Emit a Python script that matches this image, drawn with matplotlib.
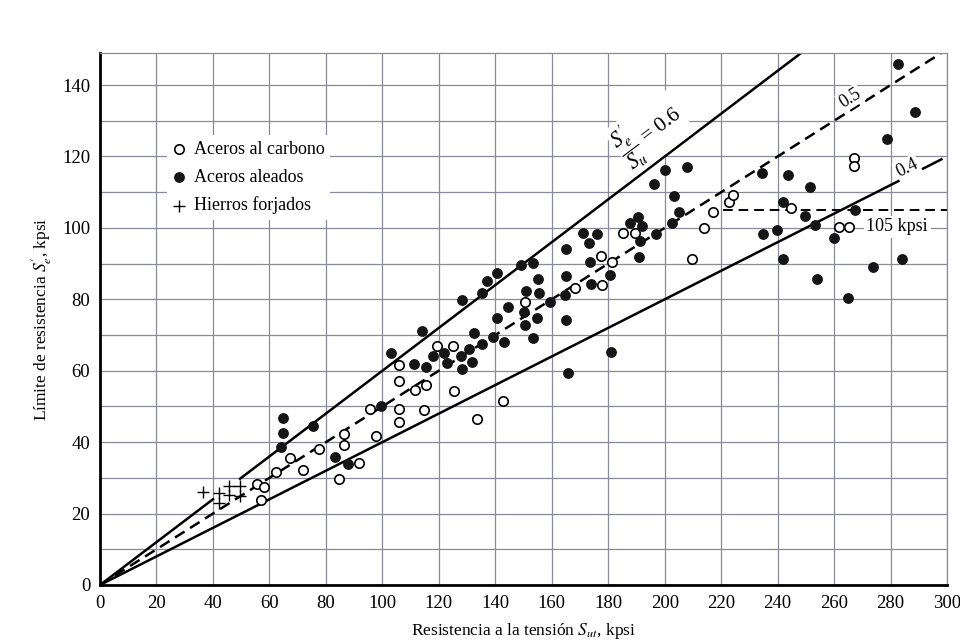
import numpy as np
import matplotlib
matplotlib.use("Agg")
import matplotlib.pyplot as plt
from matplotlib.ticker import MultipleLocator

plt.rcParams['font.family'] = ['Liberation Serif', 'DejaVu Serif']
plt.rcParams['mathtext.fontset'] = 'stix'

# Aceros al carbono (circulos vacios)
carbon_sut = [55.5, 57.9, 57.1, 62.2, 67.2, 71.9, 77.5, 86.5, 86.5, 84.8, 91.8,
              95.5, 97.9, 106, 106, 106, 106, 111.6, 115.6, 114.9, 119.3, 124.9,
              125.4, 133.4, 142.6, 150.5, 168.1, 177.7, 177.3, 181.5, 185.1,
              189.5, 209.5, 214, 217.2, 222.9, 224.2, 244.6, 261.6, 265.4,
              266.9, 266.9]
carbon_se = [28.4, 27.3, 23.7, 31.7, 35.5, 32.2, 38.1, 42.2, 39.2, 29.7, 34.3,
             49.4, 41.6, 61.6, 57.0, 49.4, 45.6, 54.7, 56.0, 49.0, 66.8, 66.8,
             54.2, 46.4, 51.6, 79.3, 83.1, 84.0, 92.0, 90.4, 98.7,
             98.7, 91.3, 100.0, 104.4, 107.2, 109.3, 105.7, 100.2, 100.2,
             119.7, 117.4]

# Aceros aleados (circulos llenos)
alloy_sut = [64.9, 64.9, 64.0, 75.4, 83.2, 87.7, 99.5, 103, 111.3, 113.9, 115.5,
             117.8, 121.8, 123, 127.8, 128.1, 130.8, 131.8, 132.3, 135.4, 139.1,
             143, 128.1, 135.2, 137, 140.7, 140.7, 144.6, 149, 153.5, 155.3,
             150.9, 155.6, 150.2, 154.9, 150.5, 153.4, 159.4, 164.7, 165.1,
             165.2, 165.2, 165.9, 171.2, 173.3, 176, 173.6, 174, 180.8, 181.1,
             187.6, 190.4, 192, 191.3, 196.8, 190.9, 202.5, 205.1, 203.4, 196.1,
             200, 207.8, 234.6, 243.8, 251.3, 241.8, 249.7, 253.3, 267.3, 259.9,
             234.9, 239.6, 241.8, 254, 273.9, 284, 264.8, 278.7, 288.5, 282.8]
alloy_se = [46.7, 42.6, 38.7, 44.5, 35.8, 34.0, 50.2, 65.1, 61.8, 71.0, 61.1,
            64.2, 65.0, 62.2, 64.2, 60.4, 66.2, 62.5, 70.6, 67.5, 69.4,
            68.0, 79.8, 81.8, 85.2, 87.5, 74.7, 77.8, 89.6, 90.3, 85.6,
            82.4, 81.9, 76.5, 74.8, 72.8, 69.3, 79.3, 81.2, 86.5,
            94.0, 74.3, 59.3, 98.5, 95.8, 98.4, 90.5, 84.4, 86.8, 65.3,
            101.5, 103.0, 100.5, 96.3, 98.3, 91.9, 101.3, 104.4, 109.0, 112.3,
            116.3, 117.1, 115.3, 114.9, 111.5, 107.3, 103.4, 100.8, 105.1, 97.3,
            98.3, 99.3, 91.2, 85.7, 89.1, 91.2, 80.5, 124.9, 132.5, 145.9]

# Hierros forjados (cruces)
iron_sut = [36.6, 42.0, 42.0, 45.8, 45.8, 49.6, 49.6]
iron_se = [26.0, 25.8, 23.0, 27.6, 25.3, 27.6, 25.0]

# rectas S'e/Sut
solid_ratios = [0.6, 0.4]
dashed_ratio = 0.5
line_06_segments = [(0, 40), (49.6, 248)]
line_04_end = 298
line_05_end = 298
knee_stress = 105
knee_start = 220.6

fig = plt.figure(figsize=(9.6, 6.41), dpi=100)
ax = fig.add_axes([0.1042, 0.0874, 0.8823, 0.8300])
ax.set_xlim(0, 300)
ax.set_ylim(0, 149)

ax.xaxis.set_major_locator(MultipleLocator(20))
ax.yaxis.set_major_locator(MultipleLocator(20))
ax.yaxis.set_minor_locator(MultipleLocator(10))
ax.grid(True, which='both', color='#8a8b9a', lw=0.9, zorder=0)
ax.set_axisbelow(True)
ax.tick_params(which='both', length=0, labelsize=13.5, pad=7)
for side in ['top', 'right']:
    ax.spines[side].set_color('#8a8b9a')
    ax.spines[side].set_linewidth(0.9)
for side in ['left', 'bottom']:
    ax.spines[side].set_linewidth(2)

for a, b in line_06_segments:
    x = np.array([a, b])
    ax.plot(x, solid_ratios[0] * x, color='black', lw=1.8, zorder=2)
x = np.array([0, line_04_end])
ax.plot(x, solid_ratios[1] * x, color='black', lw=1.8, zorder=2)
x = np.array([0, line_05_end])
ax.plot(x, dashed_ratio * x, color='black', lw=1.8, ls=(0, (4.5, 2.6)), zorder=2)
ax.plot([knee_start, 300], [knee_stress, knee_stress], color='black', lw=1.4,
        ls=(0, (5, 3)), zorder=2)

ax.scatter(carbon_sut, carbon_se, s=46, facecolor='white', edgecolor='black',
           lw=1.2, zorder=4, label='Aceros al carbono')
ax.scatter(alloy_sut, alloy_se, s=46, color='#151515', zorder=4,
           label='Aceros aleados')
ax.scatter(iron_sut, iron_se, s=80, marker='+', color='black', lw=1.0,
           zorder=4, label='Hierros forjados')

leg = ax.legend(loc='upper left', bbox_to_anchor=(0.079, 0.845), fontsize=13,
                frameon=True, fancybox=False, edgecolor='none', framealpha=1,
                borderpad=0.3, handlelength=0.7, handletextpad=0.5,
                labelspacing=0.6, borderaxespad=0)
leg.set_zorder(3)


def angle_of(k):
    p0 = ax.transData.transform((0, 0))
    p1 = ax.transData.transform((100, 100 * k))
    return np.degrees(np.arctan2(p1[1] - p0[1], p1[0] - p0[0]))


box = dict(facecolor='white', edgecolor='none', pad=1)
ax.text(194.5, 127.0, r"$\dfrac{S_e^{\prime}}{S_u}$ = 0.6", fontsize=15.5,
        rotation=angle_of(0.6), ha='center', va='center', bbox=box, zorder=3)
ax.text(265.7, 136.4, '0.5', fontsize=13, rotation=angle_of(0.5),
        ha='center', va='center', bbox=box, zorder=3)
ax.text(285.9, 116.8, '0.4', fontsize=13, rotation=angle_of(0.4),
        ha='center', va='center', bbox=box, zorder=3)
ax.text(282.3, 100.3, '105 kpsi', fontsize=13, ha='center', va='center',
        bbox=dict(facecolor='white', edgecolor='none', pad=2), zorder=3)

ax.set_xlabel(r'Resistencia a la tensión $S_{ut}$, kpsi', fontsize=12.5,
              labelpad=7)
ax.set_ylabel(r"Límite de resistencia $S_e^{\prime}$, kpsi", fontsize=12.5,
              labelpad=6)

fig.savefig('out.png', dpi=100)
